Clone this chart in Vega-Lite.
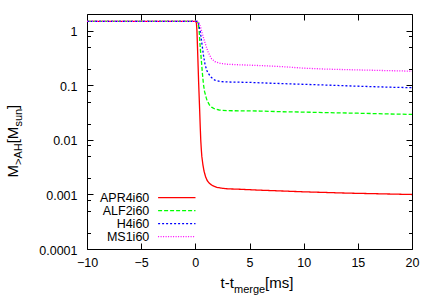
{
  "$schema": "https://vega.github.io/schema/vega-lite/v6.json",
  "width": 325,
  "height": 235,
  "autosize": "none",
  "padding": {"left": 87, "top": 14, "right": 24, "bottom": 55},
  "config": {
    "view": {"stroke": null},
    "axis": {"grid": false, "labelFont": "Liberation Sans", "labelFontSize": 12.5, "labelColor": "#000", "titleFont": "Liberation Sans", "titleFontWeight": "normal", "titleColor": "#000", "domainColor": "#000", "domainWidth": 1, "tickColor": "#000", "tickWidth": 1}
  },
  "data": {"values": [
    {"series": "APR4i60", "t": -10, "m": 1.5},
    {"series": "APR4i60", "t": 0, "m": 1.5},
    {"series": "APR4i60", "t": 0.05, "m": 1.48},
    {"series": "APR4i60", "t": 0.1, "m": 1.4},
    {"series": "APR4i60", "t": 0.15, "m": 1.0},
    {"series": "APR4i60", "t": 0.2, "m": 0.5},
    {"series": "APR4i60", "t": 0.25, "m": 0.25},
    {"series": "APR4i60", "t": 0.3, "m": 0.12},
    {"series": "APR4i60", "t": 0.35, "m": 0.065},
    {"series": "APR4i60", "t": 0.4, "m": 0.035},
    {"series": "APR4i60", "t": 0.45, "m": 0.018},
    {"series": "APR4i60", "t": 0.5, "m": 0.01},
    {"series": "APR4i60", "t": 0.55, "m": 0.0068},
    {"series": "APR4i60", "t": 0.6, "m": 0.005},
    {"series": "APR4i60", "t": 0.7, "m": 0.0035},
    {"series": "APR4i60", "t": 0.8, "m": 0.0027},
    {"series": "APR4i60", "t": 0.95, "m": 0.0021},
    {"series": "APR4i60", "t": 1.1, "m": 0.0018},
    {"series": "APR4i60", "t": 1.3, "m": 0.0016},
    {"series": "APR4i60", "t": 1.6, "m": 0.00145},
    {"series": "APR4i60", "t": 2.0, "m": 0.00135},
    {"series": "APR4i60", "t": 2.5, "m": 0.0013},
    {"series": "APR4i60", "t": 3, "m": 0.00127},
    {"series": "APR4i60", "t": 4, "m": 0.00125},
    {"series": "APR4i60", "t": 6, "m": 0.0012},
    {"series": "APR4i60", "t": 8, "m": 0.00116},
    {"series": "APR4i60", "t": 10, "m": 0.00112},
    {"series": "APR4i60", "t": 12, "m": 0.00109},
    {"series": "APR4i60", "t": 14, "m": 0.00106},
    {"series": "APR4i60", "t": 16, "m": 0.00104},
    {"series": "APR4i60", "t": 18, "m": 0.00102},
    {"series": "APR4i60", "t": 20, "m": 0.001},
    {"series": "ALF2i60", "t": -10, "m": 1.5},
    {"series": "ALF2i60", "t": 0, "m": 1.5},
    {"series": "ALF2i60", "t": 0.15, "m": 1.5},
    {"series": "ALF2i60", "t": 0.25, "m": 1.42},
    {"series": "ALF2i60", "t": 0.35, "m": 1.05},
    {"series": "ALF2i60", "t": 0.45, "m": 0.5},
    {"series": "ALF2i60", "t": 0.55, "m": 0.3},
    {"series": "ALF2i60", "t": 0.65, "m": 0.17},
    {"series": "ALF2i60", "t": 0.75, "m": 0.105},
    {"series": "ALF2i60", "t": 0.85, "m": 0.078},
    {"series": "ALF2i60", "t": 1.0, "m": 0.06},
    {"series": "ALF2i60", "t": 1.1, "m": 0.052},
    {"series": "ALF2i60", "t": 1.3, "m": 0.044},
    {"series": "ALF2i60", "t": 1.5, "m": 0.04},
    {"series": "ALF2i60", "t": 1.8, "m": 0.037},
    {"series": "ALF2i60", "t": 2.2, "m": 0.0355},
    {"series": "ALF2i60", "t": 3, "m": 0.0345},
    {"series": "ALF2i60", "t": 4, "m": 0.0343},
    {"series": "ALF2i60", "t": 6, "m": 0.034},
    {"series": "ALF2i60", "t": 8, "m": 0.033},
    {"series": "ALF2i60", "t": 10, "m": 0.0325},
    {"series": "ALF2i60", "t": 12, "m": 0.0318},
    {"series": "ALF2i60", "t": 15, "m": 0.031},
    {"series": "ALF2i60", "t": 18, "m": 0.03},
    {"series": "ALF2i60", "t": 20, "m": 0.0295},
    {"series": "H4i60", "t": -10, "m": 1.5},
    {"series": "H4i60", "t": 0, "m": 1.5},
    {"series": "H4i60", "t": 0.15, "m": 1.5},
    {"series": "H4i60", "t": 0.3, "m": 1.35},
    {"series": "H4i60", "t": 0.45, "m": 1.0},
    {"series": "H4i60", "t": 0.6, "m": 0.6},
    {"series": "H4i60", "t": 0.75, "m": 0.36},
    {"series": "H4i60", "t": 0.9, "m": 0.24},
    {"series": "H4i60", "t": 1.1, "m": 0.18},
    {"series": "H4i60", "t": 1.4, "m": 0.145},
    {"series": "H4i60", "t": 1.8, "m": 0.125},
    {"series": "H4i60", "t": 2.3, "m": 0.118},
    {"series": "H4i60", "t": 3, "m": 0.116},
    {"series": "H4i60", "t": 5, "m": 0.114},
    {"series": "H4i60", "t": 7, "m": 0.11},
    {"series": "H4i60", "t": 10, "m": 0.105},
    {"series": "H4i60", "t": 12, "m": 0.102},
    {"series": "H4i60", "t": 15, "m": 0.097},
    {"series": "H4i60", "t": 18, "m": 0.093},
    {"series": "H4i60", "t": 20, "m": 0.091},
    {"series": "MS1i60", "t": -10, "m": 1.5},
    {"series": "MS1i60", "t": 0, "m": 1.5},
    {"series": "MS1i60", "t": 0.2, "m": 1.5},
    {"series": "MS1i60", "t": 0.35, "m": 1.4},
    {"series": "MS1i60", "t": 0.5, "m": 1.15},
    {"series": "MS1i60", "t": 0.65, "m": 0.88},
    {"series": "MS1i60", "t": 0.8, "m": 0.7},
    {"series": "MS1i60", "t": 1.0, "m": 0.52},
    {"series": "MS1i60", "t": 1.2, "m": 0.4},
    {"series": "MS1i60", "t": 1.5, "m": 0.31},
    {"series": "MS1i60", "t": 1.8, "m": 0.275},
    {"series": "MS1i60", "t": 2.3, "m": 0.255},
    {"series": "MS1i60", "t": 3, "m": 0.245},
    {"series": "MS1i60", "t": 4, "m": 0.24},
    {"series": "MS1i60", "t": 6, "m": 0.232},
    {"series": "MS1i60", "t": 8, "m": 0.222},
    {"series": "MS1i60", "t": 10, "m": 0.208},
    {"series": "MS1i60", "t": 12, "m": 0.2},
    {"series": "MS1i60", "t": 15, "m": 0.193},
    {"series": "MS1i60", "t": 18, "m": 0.187},
    {"series": "MS1i60", "t": 20, "m": 0.183}
  ]},
  "resolve": {"axis": {"x": "independent", "y": "independent"}},
  "layer": [
    {
      "mark": {"type": "line", "strokeWidth": 1.3, "clip": true},
      "encoding": {
        "x": {"field": "t", "type": "quantitative", "scale": {"domain": [-10, 20], "nice": false, "zero": false},
          "axis": {"orient": "bottom", "values": [-10, -5, 0, 5, 10, 15, 20], "labelFlush": false, "ticks": false, "domain": false, "labelPadding": 7, "title": "t-t", "titleFontSize": 15, "titleX": 133, "titleY": 38, "titleAlign": "left", "titleBaseline": "alphabetic", "titleAngle": 0}},
        "y": {"field": "m", "type": "quantitative", "scale": {"type": "log", "domain": [0.0001, 2.05], "nice": false, "zero": false},
          "axis": {"orient": "left", "values": [0.0001, 0.001, 0.01, 0.1, 1], "format": "~g", "labelFlush": false, "ticks": false, "domain": false, "labelPadding": 10, "labelOffset": 1, "title": "M", "titleFontSize": 15, "titleX": -70, "titleY": 163, "titleAlign": "left", "titleBaseline": "alphabetic", "titleAngle": -90}},
        "color": {"field": "series", "type": "nominal",
          "scale": {"domain": ["APR4i60", "ALF2i60", "H4i60", "MS1i60"], "range": ["#ff0000", "#00ff00", "#0000ff", "#ff00ff"]},
          "legend": {"orient": "none", "legendX": 10.3, "legendY": 177.2, "title": null, "direction": "vertical", "padding": 0, "rowPadding": 0, "symbolType": "M-3.4,0H3.4", "symbolSize": 121, "symbolStrokeWidth": 1.3, "symbolOffset": 73, "labelOffset": -34, "labelAlign": "right", "labelFont": "Liberation Sans", "labelFontSize": 12.5, "labelColor": "#000"}},
        "strokeDash": {"field": "series", "type": "nominal",
          "scale": {"domain": ["APR4i60", "ALF2i60", "H4i60", "MS1i60"], "range": [[1, 0], [4, 2], [2, 2], [1, 1.5]]},
          "legend": {"orient": "none", "legendX": 10.3, "legendY": 177.2, "title": null, "direction": "vertical", "padding": 0, "rowPadding": 0, "symbolType": "M-3.4,0H3.4", "symbolSize": 121, "symbolStrokeWidth": 1.3, "symbolOffset": 73, "labelOffset": -34, "labelAlign": "right", "labelFont": "Liberation Sans", "labelFontSize": 12.5, "labelColor": "#000"}}
      }
    },
    {
      "mark": {"type": "point", "opacity": 0},
      "encoding": {
        "x": {"field": "t", "type": "quantitative",
          "axis": {"orient": "bottom", "values": [-10, -5, 0, 5, 10, 15, 20], "tickSize": -6, "labels": false, "domain": true, "title": "merge", "titleFontSize": 11, "titleX": 146.5, "titleY": 43, "titleAlign": "left", "titleBaseline": "alphabetic", "titleAngle": 0}},
        "y": {"field": "m", "type": "quantitative",
          "axis": {"orient": "left", "values": [0.0001, 0.001, 0.01, 0.1, 1], "tickSize": -6, "labels": false, "domain": true, "title": ">AH", "titleFontSize": 11, "titleX": -65.5, "titleY": 150.5, "titleAlign": "left", "titleBaseline": "alphabetic", "titleAngle": -90}}
      }
    },
    {
      "mark": {"type": "point", "opacity": 0},
      "encoding": {
        "x": {"field": "t", "type": "quantitative",
          "axis": {"orient": "bottom", "ticks": false, "labels": false, "domain": false, "title": "[ms]", "titleFontSize": 15, "titleX": 177.5, "titleY": 38, "titleAlign": "left", "titleBaseline": "alphabetic", "titleAngle": 0}},
        "y": {"field": "m", "type": "quantitative",
          "axis": {"orient": "left", "values": [0.8, 0.5, 0.2, 0.08, 0.05, 0.02, 0.008, 0.005, 0.002, 0.0008, 0.0005, 0.0002], "tickSize": -3.5, "labels": false, "domain": false, "title": "[M", "titleFontSize": 15, "titleX": -70, "titleY": 128.8, "titleAlign": "left", "titleBaseline": "alphabetic", "titleAngle": -90}}
      }
    },
    {
      "mark": {"type": "point", "opacity": 0},
      "encoding": {
        "x": {"field": "t", "type": "quantitative",
          "axis": {"orient": "top", "values": [-10, -5, 0, 5, 10, 15, 20], "tickSize": -6, "labels": false, "domain": true, "title": null}},
        "y": {"field": "m", "type": "quantitative",
          "axis": {"orient": "left", "ticks": false, "labels": false, "domain": false, "title": "sun", "titleFontSize": 11, "titleX": -65.5, "titleY": 112.1, "titleAlign": "left", "titleBaseline": "alphabetic", "titleAngle": -90}}
      }
    },
    {
      "mark": {"type": "point", "opacity": 0},
      "encoding": {
        "x": {"field": "t", "type": "quantitative", "axis": null},
        "y": {"field": "m", "type": "quantitative",
          "axis": {"orient": "left", "ticks": false, "labels": false, "domain": false, "title": "]", "titleFontSize": 15, "titleX": -70, "titleY": 94.4, "titleAlign": "left", "titleBaseline": "alphabetic", "titleAngle": -90}}
      }
    },
    {
      "mark": {"type": "point", "opacity": 0},
      "encoding": {
        "x": {"field": "t", "type": "quantitative", "axis": null},
        "y": {"field": "m", "type": "quantitative",
          "axis": {"orient": "right", "values": [0.0001, 0.001, 0.01, 0.1, 1], "tickSize": -6, "labels": false, "domain": true, "title": null}}
      }
    },
    {
      "mark": {"type": "point", "opacity": 0},
      "encoding": {
        "x": {"field": "t", "type": "quantitative", "axis": null},
        "y": {"field": "m", "type": "quantitative",
          "axis": {"orient": "right", "values": [0.8, 0.5, 0.2, 0.08, 0.05, 0.02, 0.008, 0.005, 0.002, 0.0008, 0.0005, 0.0002], "tickSize": -3.5, "labels": false, "domain": false, "title": null}}
      }
    }
  ]
}
